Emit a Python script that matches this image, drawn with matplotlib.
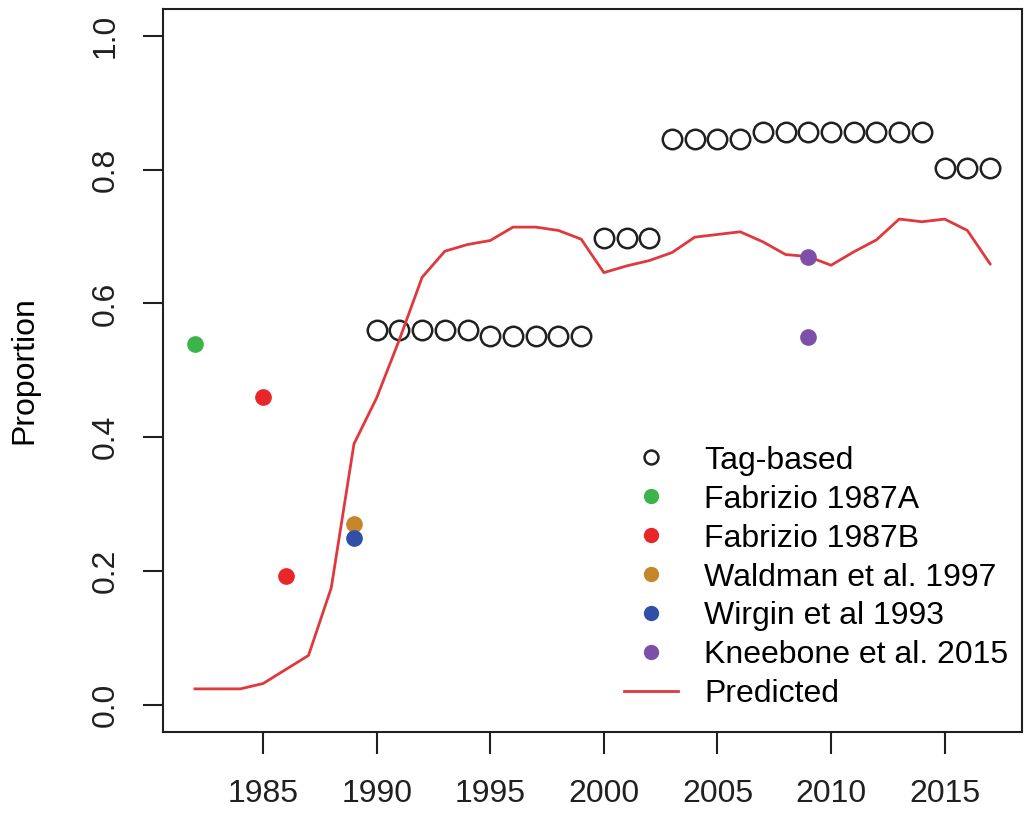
import matplotlib.pyplot as plt
from matplotlib.lines import Line2D

plt.rcParams['font.family'] = ['Liberation Sans', 'DejaVu Sans']

# tag-based estimates (open circles)
tag_years = list(range(1990, 2018))
tag_vals = [0.56] * 5 + [0.552] * 5 + [0.697] * 3 + [0.845] * 4 + [0.856] * 8 + [0.803] * 3

# literature point estimates
fab_a_years, fab_a_vals = [1982], [0.54]
fab_b_years, fab_b_vals = [1985, 1986], [0.46, 0.192]
wald_years, wald_vals = [1989], [0.27]
wirg_years, wirg_vals = [1989], [0.25]
knee_years, knee_vals = [2009, 2009], [0.67, 0.55]

# model prediction
pred_years = list(range(1982, 2018))
pred_vals = [0.024, 0.024, 0.024, 0.032, 0.053, 0.074, 0.175, 0.39, 0.459, 0.546,
             0.639, 0.678, 0.688, 0.694, 0.714, 0.714, 0.709, 0.696, 0.646, 0.656,
             0.664, 0.676, 0.699, 0.703, 0.707, 0.692, 0.673, 0.670, 0.657, 0.677,
             0.695, 0.726, 0.722, 0.726, 0.709, 0.659]

xticks = [1985, 1990, 1995, 2000, 2005, 2010, 2015]
yticks = [0.0, 0.2, 0.4, 0.6, 0.8, 1.0]

c_green = '#3cb44a'
c_red = '#e8262a'
c_orange = '#c8862a'
c_blue = '#3050a8'
c_purple = '#7e4fa8'
c_line = '#e0383c'

fig = plt.figure(figsize=(10.26, 8.13), dpi=100)
ax = fig.add_axes([0.159, 0.100, 0.837, 0.889])

ax.plot(tag_years, tag_vals, 'o', mfc='none', mec='#202020', ms=14, mew=1.8, ls='none')
ax.plot(pred_years, pred_vals, color=c_line, lw=2.0)
ax.plot(fab_a_years, fab_a_vals, 'o', color=c_green, ms=11, ls='none')
ax.plot(fab_b_years, fab_b_vals, 'o', color=c_red, ms=11, ls='none')
ax.plot(wald_years, wald_vals, 'o', color=c_orange, ms=11, ls='none')
ax.plot(wirg_years, wirg_vals, 'o', color=c_blue, ms=11, ls='none')
ax.plot(knee_years, knee_vals, 'o', color=c_purple, ms=11, ls='none')

ax.set_xlim(1980.6, 2018.4)
ax.set_ylim(-0.04, 1.04)
ax.set_xticks(xticks)
ax.set_yticks(yticks)
ax.set_yticklabels([f'{v:.1f}' for v in yticks], rotation=90, va='center')
ax.tick_params(axis='both', labelsize=23, width=1.5, colors='#202020')
ax.tick_params(axis='x', length=16, pad=18)
ax.tick_params(axis='y', length=14.5, pad=16)
for s in ax.spines.values():
    s.set_linewidth(1.5)
    s.set_color('#202020')
ax.set_ylabel('Proportion', fontsize=23, labelpad=37)

handles = [
    Line2D([], [], marker='o', ls='none', mfc='none', mec='#202020', ms=10, mew=1.8),
    Line2D([], [], marker='o', ls='none', color=c_green, ms=10),
    Line2D([], [], marker='o', ls='none', color=c_red, ms=10),
    Line2D([], [], marker='o', ls='none', color=c_orange, ms=10),
    Line2D([], [], marker='o', ls='none', color=c_blue, ms=10),
    Line2D([], [], marker='o', ls='none', color=c_purple, ms=10),
    Line2D([], [], color=c_line, lw=2.0),
]
labels = ['Tag-based', 'Fabrizio 1987A', 'Fabrizio 1987B', 'Waldman et al. 1997',
          'Wirgin et al 1993', 'Kneebone et al. 2015', 'Predicted']
ax.legend(handles, labels, loc='lower right', bbox_to_anchor=(1.01, 0.0),
          frameon=False, fontsize=23, labelspacing=0.28, handlelength=1.7,
          handletextpad=0.8, borderaxespad=0.3)

fig.savefig('out.png', dpi=100)
